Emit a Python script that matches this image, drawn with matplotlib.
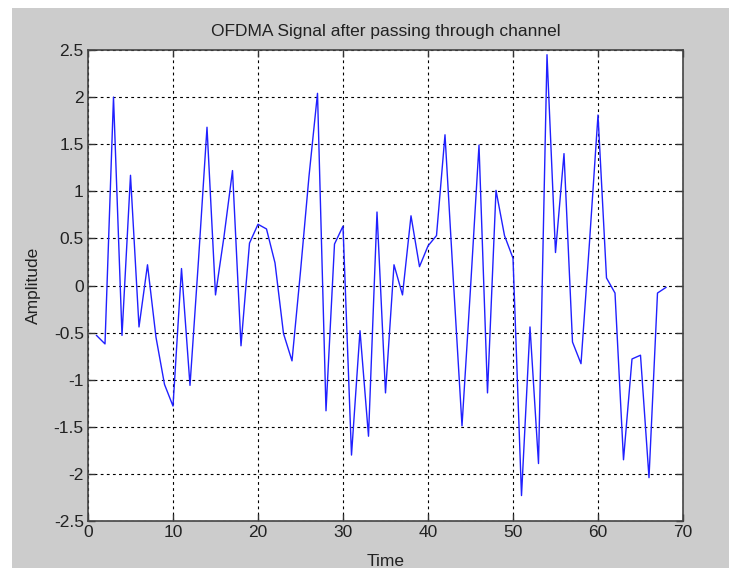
import matplotlib
matplotlib.use("Agg")
import matplotlib.pyplot as plt
import numpy as np

# sample index and received amplitude
time = np.arange(1, 69)
amplitude = [
    -0.53, -0.62, 2.00, -0.53, 1.17, -0.44, 0.22, -0.55, -1.05, -1.28,
    0.18, -1.06, 0.27, 1.68, -0.10, 0.52, 1.22, -0.64, 0.45, 0.65,
    0.60, 0.24, -0.51, -0.80, 0.15, 1.16, 2.04, -1.33, 0.44, 0.63,
    -1.80, -0.48, -1.60, 0.78, -1.14, 0.22, -0.10, 0.74, 0.20, 0.42,
    0.53, 1.60, 0.03, -1.49, -0.03, 1.49, -1.14, 1.01, 0.53, 0.29,
    -2.23, -0.44, -1.89, 2.45, 0.35, 1.40, -0.60, -0.83, 0.46, 1.81,
    0.08, -0.08, -1.85, -0.78, -0.74, -2.04, -0.08, -0.02,
]

xticks = [0, 10, 20, 30, 40, 50, 60, 70]
yticks = [-2.5, -2, -1.5, -1, -0.5, 0, 0.5, 1, 1.5, 2, 2.5]

plt.rcParams['font.family'] = ['Liberation Sans', 'DejaVu Sans']

fig = plt.figure(figsize=(7.29, 5.68), dpi=100)
fig.patch.set_facecolor('#cccccc')
# thin white strips along the top and left edge
fig.patches.append(plt.Rectangle((0, 1 - 8 / 568), 1, 8 / 568,
                                 transform=fig.transFigure,
                                 facecolor='white', edgecolor='none'))
fig.patches.append(plt.Rectangle((0, 0), 12 / 729, 1,
                                 transform=fig.transFigure,
                                 facecolor='white', edgecolor='none'))

ax = fig.add_axes([88 / 729, 1 - 521 / 568, 595 / 729, 471 / 568])
ax.set_facecolor('white')
ax.plot(time, amplitude, color='#2020ff', linewidth=1.0)

ax.set_xlim(0, 70)
ax.set_ylim(-2.5, 2.5)
ax.set_xticks(xticks)
ax.set_yticks(yticks)
ax.set_xticklabels([str(t) for t in xticks])
ax.set_yticklabels([f'{t:g}' for t in yticks])

ax.grid(True, color='black', linestyle=(0, (2.5, 3)), linewidth=0.8)
ax.tick_params(direction='in', length=5, width=1, top=True, right=True,
               labelsize=12.5, colors='#333333', labelcolor='#222222', pad=3)
for side in ax.spines.values():
    side.set_color('#444444')
    side.set_linewidth(1.2)

ax.set_title('OFDMA Signal after passing through channel', fontsize=12.5,
             color='#222222', pad=10)
ax.set_xlabel('Time', fontsize=12.5, color='#222222', labelpad=10)
ax.set_ylabel('Amplitude', fontsize=12.5, color='#222222', labelpad=9)

fig.savefig('out.png', dpi=100, facecolor=fig.get_facecolor())
